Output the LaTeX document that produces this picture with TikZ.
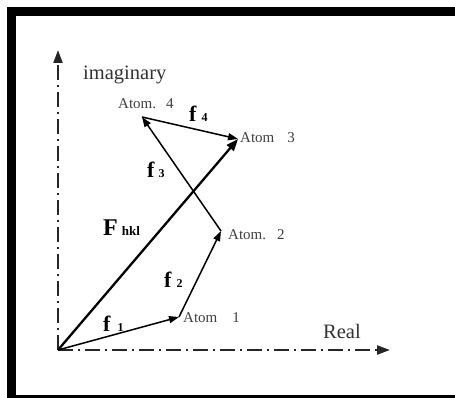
\documentclass[tikz,border=0pt]{standalone}
\usepackage{fontspec}
\setmainfont{Liberation Serif}
\usetikzlibrary{arrows.meta}
\begin{document}
\begin{tikzpicture}[x=1pt,y=-1pt,
  axisline/.style={line width=2.2pt,black!85,dash pattern=on 15pt off 5pt on 2pt off 5pt,
    -{Triangle[length=13pt,width=9pt]}},
  vec/.style={line width=1.5pt,-{Triangle[length=10pt,width=7pt]}},
  bigvec/.style={line width=2.3pt,-{Triangle[length=12pt,width=9pt]}},
  atomlbl/.style={anchor=base west,inner sep=0pt,text=black!75,font=\fontsize{15}{15}\selectfont},
  axlbl/.style={anchor=base west,inner sep=0pt,text=black!80,font=\fontsize{20.5}{20.5}\selectfont},
  flbl/.style={anchor=base west,inner sep=0pt,font=\fontsize{22}{22}\selectfont\bfseries}]
\useasboundingbox (0,0) rectangle (455,398);
\clip (0,0) rectangle (455,398);
\fill[white] (0,0) rectangle (455,398);
\draw[line width=9pt] (11.5,11.5) rectangle (460,399.5);
% points
\coordinate (O) at (58,350);
\coordinate (X) at (390,350);
\coordinate (Y) at (58,50);
\coordinate (A1) at (179,317);
\coordinate (A2) at (221,231);
\coordinate (A3) at (238,139);
\coordinate (A4) at (142,117);
% axes
\draw[axisline] (O) -- (X);
\draw[axisline] (O) -- (Y);
% vectors
\draw[vec] (O) -- (A1);
\draw[vec] (A1) -- (A2);
\draw[vec] (A2) -- (A4);
\draw[vec] (A4) -- (A3);
\draw[bigvec] (O) -- (A3);
% axis labels
\node[axlbl] (im) at (83,80) {imaginary};
\node[axlbl] (re) at (323,338) {Real};
% atom labels
\node[atomlbl] (l1) at (183,322) {Atom\hspace{15pt}1};
\node[atomlbl] (l2) at (228,240) {Atom.\hspace{11pt}2};
\node[atomlbl] (l3) at (240,143) {Atom\hspace{13pt}3};
\node[atomlbl] (l4) at (118,109) {Atom.\hspace{10pt}4};
% vector labels
\node[flbl] (f1) at (103,331) {f\hspace{7pt}{\fontsize{12}{12}\selectfont 1}};
\node[flbl] (f2) at (164,287) {f\hspace{5pt}{\fontsize{12}{12}\selectfont 2}};
\node[flbl] (f3) at (147,178) {f\hspace{4pt}{\fontsize{12}{12}\selectfont 3}};
\node[flbl] (f4) at (189,122) {f\hspace{5pt}{\fontsize{12}{12}\selectfont 4}};
\node[flbl,font=\fontsize{24}{24}\selectfont\bfseries] (F) at (103,235) {F\hspace{4pt}{\fontsize{13}{13}\selectfont hkl}};
\end{tikzpicture}
\end{document}
